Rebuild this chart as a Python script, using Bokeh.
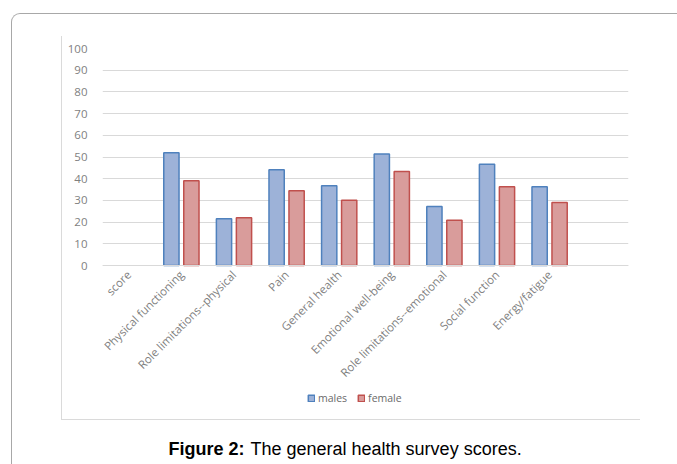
import math
from bokeh.plotting import figure
from bokeh.models import (FactorRange, Range1d, FixedTicker, Legend, LegendItem,
                          Label, ColumnDataSource, InlineStyleSheet)
from bokeh.transform import dodge
from bokeh.embed import file_html
from bokeh.resources import INLINE

NAN = float("nan")

categories = ["score", "Physical functioning", "Role limitations--physical", "Pain",
              "General health", "Emotional well-being", "Role limitations--emotional",
              "Social function", "Energy/fatigue"]
males = [NAN, 52.0, 21.5, 44.1, 36.7, 51.4, 27.2, 46.7, 36.3]
female = [NAN, 39.0, 22.0, 34.4, 30.1, 43.3, 20.9, 36.3, 29.0]
y_ticks = list(range(0, 101, 10))
series_names = ["males", "female"]
caption_bold = "Figure 2:"
caption_rest = "The general health survey scores."

# page geometry (pixels)
W, H = 677, 464
TOP, ZERO_Y, LEFT, RIGHT = 48, 265, 102, 628
y_max = 100
y_min = -(H - ZERO_Y) * y_max / (ZERO_Y - TOP)   # room below the axis for labels

factors = categories + [" "]
src = ColumnDataSource(dict(cat=categories, males=males, female=female))

p = figure(x_range=FactorRange(*factors), y_range=Range1d(y_min, y_max),
           width=W, height=H, output_backend="svg", toolbar_location=None,
           min_border_left=LEFT, min_border_right=W - RIGHT, min_border_top=TOP,
           min_border_bottom=0)
p.outline_line_color = None
p.background_fill_color = "white"
p.border_fill_color = "white"

css = """
:host { position: relative; }
:host::before { content: ""; position: absolute; left: 11px; top: 13px;
  width: 666px; height: 451px; box-sizing: border-box;
  border-left: 1.5px solid #a8a8a8; border-top: 1.5px solid #a8a8a8;
  border-top-left-radius: 9px; pointer-events: none; z-index: 2; }
:host::after { content: ""; position: absolute; left: 61px; top: 36px;
  width: 579px; height: 384px; box-sizing: border-box;
  border-left: 1.5px solid #dadada; border-bottom: 1.5px solid #dadada;
  pointer-events: none; z-index: 2; }
"""
p.stylesheets = [InlineStyleSheet(css=css)]

r1 = p.vbar(x=dodge("cat", -0.19, range=p.x_range), top="males", width=0.29,
            source=src, fill_color="#9DB2D8", line_color="#4F81BD", line_width=1.5)
r2 = p.vbar(x=dodge("cat", 0.19, range=p.x_range), top="female", width=0.29,
            source=src, fill_color="#D99C9B", line_color="#C0504D", line_width=1.5)

p.xgrid.grid_line_color = None
p.ygrid.ticker = FixedTicker(ticks=y_ticks)
p.ygrid.grid_line_color = "#D9D9D9"
p.ygrid.grid_line_width = 1.2
p.yaxis.ticker = FixedTicker(ticks=y_ticks)
p.yaxis.axis_line_color = None
p.yaxis.major_tick_line_color = None
p.yaxis.minor_tick_line_color = None
p.yaxis.major_label_standoff = 9
p.yaxis.major_label_text_font = "Open Sans"
p.yaxis.major_label_text_font_size = "11.5px"
p.yaxis.major_label_text_color = "#7f7f7f"

p.xaxis.fixed_location = 0
p.xaxis.axis_line_color = "#D9D9D9"
p.xaxis.axis_line_width = 1.2
p.xaxis.major_tick_line_color = None
p.xaxis.minor_tick_line_color = None
p.xaxis.major_label_orientation = math.pi / 4
p.xaxis.major_label_standoff = 1
p.xaxis.major_label_text_font = "Open Sans"
p.xaxis.major_label_text_font_size = "11.5px"
p.xaxis.major_label_text_color = "#7f7f7f"

legend = Legend(items=[LegendItem(label=series_names[0], renderers=[r1]),
                       LegendItem(label=series_names[1], renderers=[r2])],
                orientation="horizontal", location=(205, 59),
                glyph_width=8, glyph_height=8, label_standoff=3, spacing=10,
                padding=0, margin=0, border_line_color=None,
                background_fill_alpha=0, label_text_font="Open Sans",
                label_text_font_size="10.5px", label_text_color="#6a6a6a",
                label_height=10)
p.add_layout(legend)

p.add_layout(Label(x=168, y=448, x_units="canvas", y_units="canvas",
                   text=caption_bold, text_font="Liberation Sans",
                   text_font_style="bold", text_font_size="18px",
                   text_color="black", text_align="left",
                   text_baseline="alphabetic"))
p.add_layout(Label(x=250, y=448, x_units="canvas", y_units="canvas",
                   text=caption_rest, text_font="Liberation Sans",
                   text_font_size="18px", text_color="black",
                   text_align="left", text_baseline="alphabetic"))

open("out.html", "w").write(file_html(p, INLINE))
